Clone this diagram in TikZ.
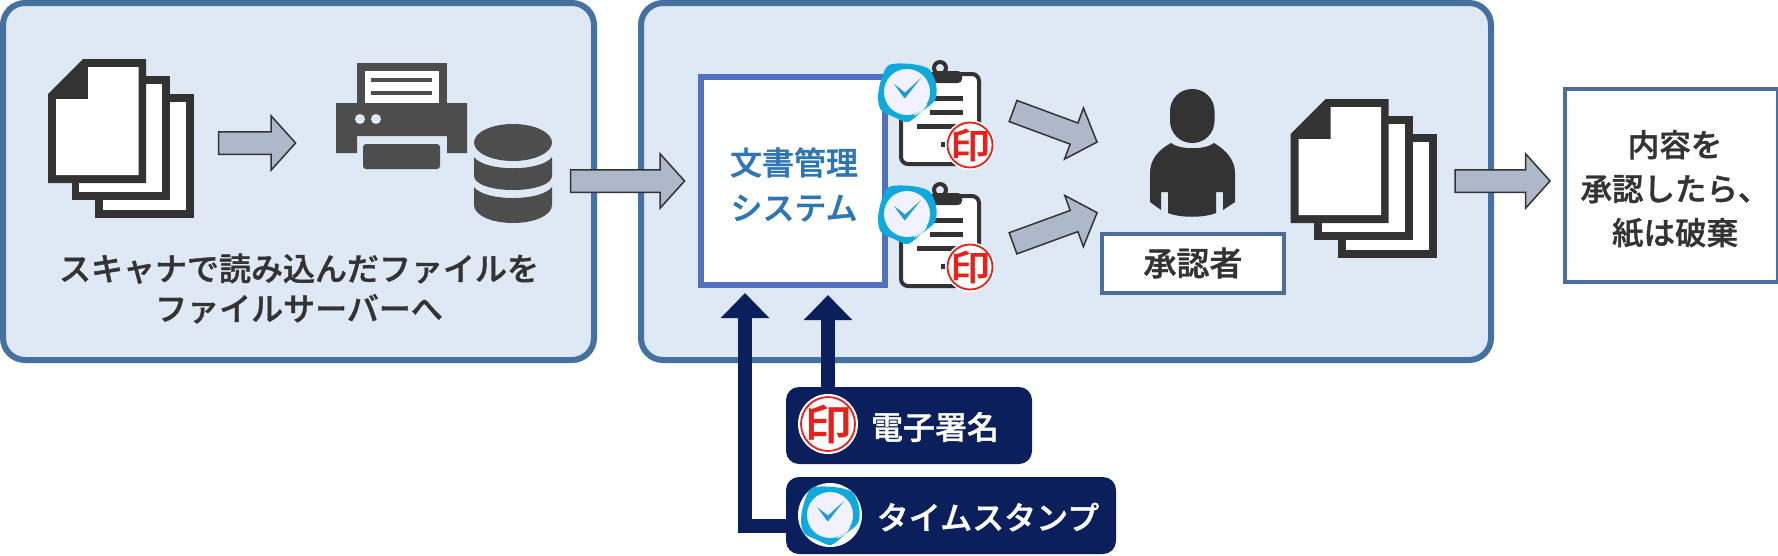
\documentclass[tikz,border=0pt]{standalone}
\usepackage{fontspec}
\setmainfont{Noto Sans CJK JP}[BoldFont={Noto Sans CJK JP Medium},BoldFeatures={FakeBold=1.2}]
\usetikzlibrary{shapes.arrows,arrows.meta}
\definecolor{panelfill}{HTML}{DEE9F5}
\definecolor{panelline}{HTML}{44719F}
\definecolor{sysline}{HTML}{4F71BE}
\definecolor{systext}{HTML}{2E75B6}
\definecolor{boxline}{HTML}{4A6F9C}
\definecolor{dark}{HTML}{333333}
\definecolor{printer}{HTML}{4D4D4D}
\definecolor{arrowfill}{HTML}{ADB9CA}
\definecolor{navy}{HTML}{0A1F5C}
\definecolor{stampred}{HTML}{E8201A}
\definecolor{clockblue}{HTML}{0FA9DE}
\definecolor{handblue}{HTML}{1E9BD7}
\newcommand{\shaftstrut}{\rule{0pt}{21pt}}
\tikzset{
  panel/.style={draw=panelline,fill=panelfill,line width=6pt,rounded corners=22pt,inner sep=0pt,outer sep=0pt},
  sysbox/.style={draw=sysline,fill=white,line width=6pt,inner sep=0pt,outer sep=0pt},
  whitebox/.style={draw=boxline,fill=white,line width=4pt,inner sep=0pt,outer sep=0pt},
  pill/.style={fill=navy,rounded corners=13pt,inner sep=0pt,outer sep=0pt},
  blockarrow/.style={single arrow,draw=dark,fill=arrowfill,line width=1.5pt,inner sep=0pt,outer sep=0pt,
    single arrow head extend=16pt,single arrow tip angle=96,minimum height=77pt},
  navyline/.style={draw=navy,line width=14pt,-{Triangle[length=25pt,width=47pt]}},
  txt/.style={font=\bfseries\fontsize{32}{40}\selectfont,text=dark,align=center,inner sep=0pt},
  wtxt/.style={font=\bfseries\fontsize{32}{40}\selectfont,text=white,inner sep=0pt},
}
\newcommand{\docstack}[2]{%
  \begin{scope}[shift={(#1,#2)}]
    \fill[dark] (47,35) rectangle (146,159);
    \fill[white] (55,43) rectangle (138,151);
    \fill[dark] (23.5,17) rectangle (122,141);
    \fill[white] (31,25) rectangle (114,133);
    \fill[dark] (0,35) -- (35,0) -- (98,0) -- (98,124) -- (0,124) -- cycle;
    \fill[white] (40,8) -- (90.5,8) -- (90.5,116) -- (8,116) -- (8,40) -- (40,40) -- cycle;
  \end{scope}}
\newcommand{\clipboard}[2]{%
  \begin{scope}[shift={(#1,#2)}]
    \draw[dark,line width=4pt,fill=white,rounded corners=7pt] (901,74) rectangle (979,164);
    \draw[dark,line width=4pt] (940,68) circle (6);
    \fill[dark,rounded corners=4pt] (933,71) rectangle (962,83);
    \draw[dark,line width=5pt] (930,98) -- (963,98);
    \draw[dark,line width=5pt] (930,112) -- (963,112);
    \draw[dark,line width=5pt] (917,126) -- (957,126);
    \draw[dark,line width=5pt] (941,144) -- (960,144);
  \end{scope}}
\newcommand{\stampicon}[4]{% x y radius fontsize
  \fill[white] (#1,#2) circle (#3);
  \draw[stampred,line width=1.8pt] (#1,#2) circle ({#3*0.9});
  \node[inner sep=0pt,text=stampred,font=\bfseries\fontsize{#4}{#4}\selectfont] at (#1,#2) {\scalebox{1.05}[0.92]{印}};}
\newcommand{\clockicon}[2]{%
  \begin{scope}[shift={(#1,#2)}]
    \fill[clockblue] plot[smooth cycle] coordinates {(-18,-27) (4,-28) (22,-23) (29,-8) (28,8) (14,20) (1,30) (-13,25) (-26,18) (-29,5) (-26,-12)};
    \fill[white!95!blue] (0,0) circle (23);
    \fill[handblue] (-13,-8) -- (-2,0.5) -- (14,-14) -- (-1,5) -- (-2,6.5) -- (-3.5,5) -- cycle;
    \draw[white,line width=1pt] (7,23) arc[start angle=70,end angle=30,radius=24];
  \end{scope}}
\begin{document}
\begin{tikzpicture}[x=1pt,y=-1pt]
\useasboundingbox (0,0) rectangle (1778,555);
% panels
\node[panel,minimum width=591pt,minimum height=357pt] (left) at (298.5,181.5) {};
\node[panel,minimum width=850pt,minimum height=357pt] (right) at (1066,181.5) {};
% left panel
\docstack{48}{59}
\node[blockarrow] (a1) at (252,143) {\shaftstrut};
% printer
\fill[printer] (357,63) rectangle (447,110);
\fill[white] (365,71) rectangle (439,103);
\fill[printer] (371,78) rectangle (432,82);
\fill[printer] (371,91) rectangle (432,95);
\fill[printer] (336,103) -- (467,103) -- (467,153) -- (447,153) -- (447,136) -- (357,136) -- (357,153) -- (336,153) -- cycle;
\fill[panelfill] (360,119) circle (5);
\fill[panelfill] (376,119) circle (5);
\fill[printer,rounded corners=3pt] (363,144) rectangle (440,169);
% database
\fill[printer] (513,142.5) ellipse [x radius=39,y radius=18.5];
\fill[printer] (474,157) .. controls (485,172) and (541,172) .. (552,157) -- (552,176) .. controls (552,184) and (535,190) .. (513,190) .. controls (491,190) and (474,184) .. (474,176) -- cycle;
\fill[printer] (474,187) .. controls (485,201.7) and (541,201.7) .. (552,187) -- (552,205) .. controls (552,215) and (535,223) .. (513,223) .. controls (491,223) and (474,215) .. (474,205) -- cycle;
\node[txt] (t1) at (299,288.5) {スキャナで読み込んだファイルを\\ファイルサーバーへ};
% system box
\node[sysbox,minimum width=184pt,minimum height=208pt] (sys) at (793,181) {};
\node[font=\bfseries\fontsize{32}{45}\selectfont,text=systext,align=center,inner sep=0pt] (systxt) at (794,184.5) {文書管理\\システム};
% clipboards
\clipboard{0}{0}
\clipboard{0}{122}
\clockicon{907}{92}
\clockicon{907}{214}
\stampicon{970}{145}{25}{38}
\stampicon{970}{267}{25}{38}
\node[blockarrow,minimum height=89.5pt,rotate=-20.3] (a2) at (1050.3,124.8) {\shaftstrut};
\node[blockarrow,minimum height=89.5pt,rotate=20] (a3) at (1050.3,229.7) {\shaftstrut};
% person
\fill[dark] (1171,143) .. controls (1158,150) and (1150,160) .. (1150,173) -- (1150,202) -- (1161,210) -- (1161,192) -- (1168,192) -- (1168,213) .. controls (1180,218) and (1204,218) .. (1216,213) -- (1216,192) -- (1223,192) -- (1223,210) -- (1235,202) -- (1235,173) .. controls (1235,160) and (1226,150) .. (1214,143) .. controls (1205,150) and (1180,150) .. (1171,143) -- cycle;
\fill[dark,rounded corners=22pt] (1170,89) rectangle (1214.5,143);
\node[whitebox,minimum width=182pt,minimum height=59pt] (appr) at (1193,263) {};
\node[txt,font=\bfseries\fontsize{33}{40}\selectfont] (apprt) at (1193,263) {承認者};
\docstack{1290.6}{99}
% final box
\node[whitebox,minimum width=213pt,minimum height=193pt] (final) at (1671,185) {};
\node[txt,font=\bfseries\fontsize{31.5}{44}\selectfont] (finalt) at (1675,189) {内容を\\承認したら、\\紙は破棄};
% horizontal arrows
\node[blockarrow,minimum height=114pt] (a4) at (622.5,181) {\shaftstrut};
\node[blockarrow,minimum height=95pt] (a5) at (1497.5,181) {\shaftstrut};
% pills
\node[pill,minimum width=246pt,minimum height=77pt] (sig) at (909,425.5) {};
\node[pill,minimum width=330pt,minimum height=77pt] (ts) at (951,515.5) {};
\coordinate (tipA) at (745,293);
\coordinate (tipB) at (828,295);
\coordinate (startA) at (786,526);
\draw[navyline] (startA) -| (tipA);
\draw[navyline] (tipB |- sig.north) -- (tipB);
\stampicon{828}{424}{30}{45}
\fill[white] (830,515) circle (32);
\clockicon{830}{515}
\node[wtxt] (sigt) at (935,427) {電子署名};
\node[wtxt] (tst) at (988,517) {タイムスタンプ};
\end{tikzpicture}
\end{document}
